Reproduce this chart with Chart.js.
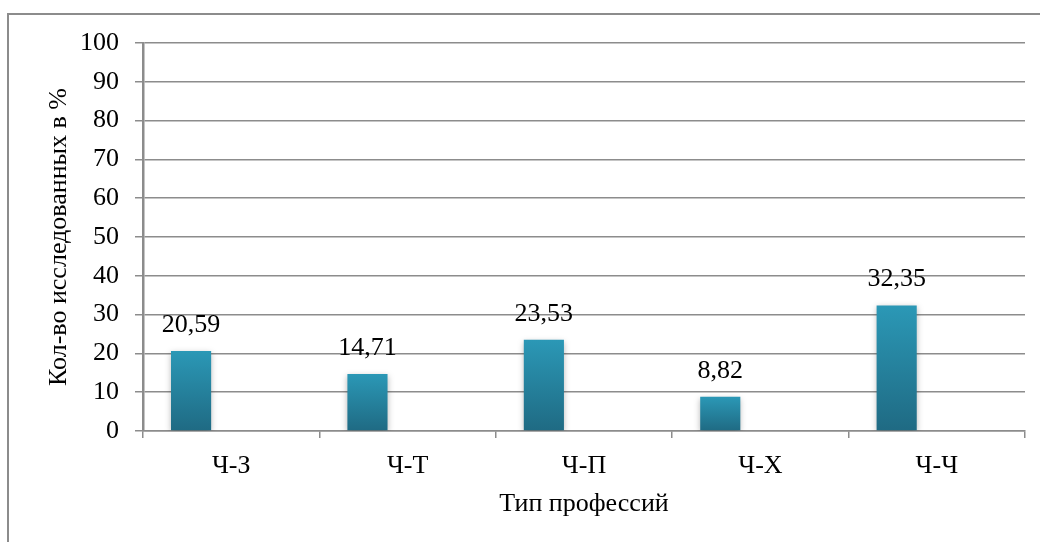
<!DOCTYPE html>
<html>
<head>
<meta charset="utf-8">
<script src="https://cdn.jsdelivr.net/npm/chart.js@4"></script>
<style>
  html, body { margin: 0; padding: 0; background: #fff; }
  #wrap { position: relative; width: 1040px; height: 542px; overflow: hidden; }
  #frame { position: absolute; left: 7px; top: 13px; width: 1100px; height: 600px;
           border-top: 2px solid #8c8c8c; border-left: 2px solid #8c8c8c; }
  canvas { position: absolute; left: 0; top: 0; }
</style>
</head>
<body>
<div id="wrap">
  <div id="frame"></div>
  <canvas id="c" width="1040" height="542"></canvas>
</div>
<script>
// данные с диаграммы
const categories = ['Ч-З', 'Ч-Т', 'Ч-П', 'Ч-Х', 'Ч-Ч'];
const values     = [20.59, 14.71, 23.53, 8.82, 32.35];
const yTicks     = [0, 10, 20, 30, 40, 50, 60, 70, 80, 90, 100];

const FONT = '"Liberation Serif", "Times New Roman", serif';
const FS = 26;

// градиент для каждого столбца отдельно — сверху светлее
function barGradient(ctx) {
  const chart = ctx.chart;
  const { ctx: c, chartArea, scales } = chart;
  if (!chartArea || ctx.raw == null) return '#2a93b0';
  const top = scales.y.getPixelForValue(ctx.raw);
  const bot = scales.y.getPixelForValue(0);
  const g = c.createLinearGradient(0, top, 0, bot);
  g.addColorStop(0, '#2b98b6');
  g.addColorStop(1, '#1f6a83');
  return g;
}

// лёгкая тень под столбцами
const shadowPlugin = {
  id: 'barShadow',
  beforeDatasetDraw(chart) {
    const c = chart.ctx;
    c.save();
    c.shadowColor = 'rgba(0,0,0,0.28)';
    c.shadowBlur = 6;
    c.shadowOffsetY = 2;
  },
  afterDatasetDraw(chart) { chart.ctx.restore(); }
};

// подписи значений над столбцами (запятая как в оригинале)
const labelPlugin = {
  id: 'valueLabels',
  afterDatasetsDraw(chart) {
    const c = chart.ctx;
    const meta = chart.getDatasetMeta(0);
    c.save();
    c.font = FS + 'px ' + FONT;
    c.fillStyle = '#000';
    c.textAlign = 'center';
    c.textBaseline = 'middle';
    meta.data.forEach((bar, i) => {
      c.fillText(values[i].toFixed(2).replace('.', ','), bar.x, bar.y - 26);
    });
    c.restore();
  }
};

new Chart(document.getElementById('c'), {
  type: 'bar',
  data: {
    labels: categories,
    datasets: [
      { data: values, backgroundColor: barGradient, borderWidth: 0 },
      { data: categories.map(() => null), backgroundColor: 'rgba(0,0,0,0)' }
    ]
  },
  options: {
    responsive: false,
    animation: false,
    devicePixelRatio: 1,
    categoryPercentage: 0.91,
    barPercentage: 0.5,
    layout: { padding: { left: 0, top: 43, right: 15, bottom: 0 } },
    plugins: { legend: { display: false }, tooltip: { enabled: false } },
    scales: {
      x: {
        grid: { offset: true, drawOnChartArea: false, drawTicks: true, tickLength: 7,
                color: '#8c8c8c', lineWidth: 1.5 },
        border: { color: '#8c8c8c', width: 1.5 },
        ticks: { color: '#000', font: { family: FONT, size: FS }, padding: 13 },
        title: { display: true, text: 'Тип профессий', color: '#000',
                 font: { family: FONT, size: FS }, padding: { top: 0, bottom: 22 } },
        afterFit: s => { s.height = 111; }
      },
      y: {
        min: 0, max: 100,
        afterBuildTicks: s => { s.ticks = yTicks.map(v => ({ value: v })); },
        grid: { color: '#8c8c8c', lineWidth: 1.5, tickLength: 8 },
        border: { color: '#8c8c8c', width: 2.5 },
        ticks: { color: '#000', font: { family: FONT, size: FS }, padding: 16 },
        title: { display: true, text: 'Кол-во исследованных в %', color: '#000',
                 font: { family: FONT, size: FS }, padding: { top: 44, bottom: 0 } },
        afterFit: s => { s.width = 143; }
      }
    }
  },
  plugins: [shadowPlugin, labelPlugin]
});
</script>
</body>
</html>
